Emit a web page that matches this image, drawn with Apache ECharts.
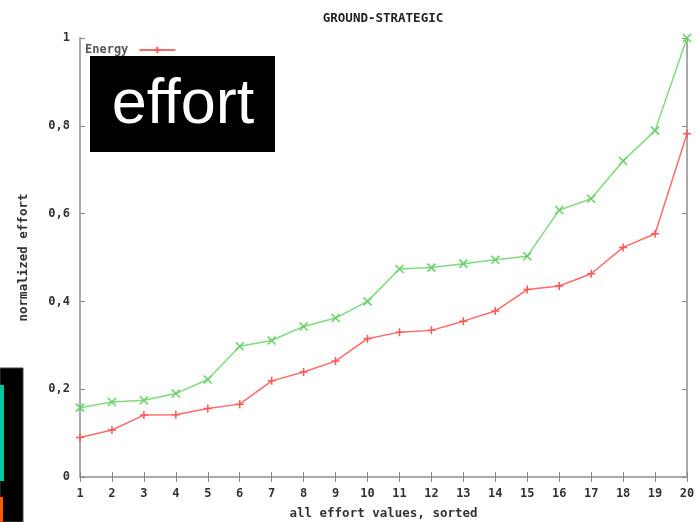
<!DOCTYPE html>
<html>
<head>
<meta charset="utf-8">
<script src="https://cdn.jsdelivr.net/npm/echarts@6/dist/echarts.min.js"></script>
<style>
html,body{margin:0;padding:0;background:#fff;}
#c{width:698px;height:522px;}
</style>
</head>
<body>
<div id="c"></div>
<script>
const categories = ['1','2','3','4','5','6','7','8','9','10','11','12','13','14','15','16','17','18','19','20'];
const energyValues = [0.090,0.107,0.141,0.142,0.156,0.166,0.219,0.239,0.264,0.315,0.330,0.334,0.355,0.378,0.427,0.435,0.463,0.523,0.554,0.782];
const otherValues = [0.158,0.171,0.175,0.190,0.222,0.298,0.311,0.343,0.362,0.400,0.474,0.477,0.486,0.495,0.503,0.608,0.634,0.720,0.789,1.000];
const yTicks = [0,0.2,0.4,0.6,0.8,1];

const FONT = 'DejaVu Sans Mono';
const txt = {fontFamily: FONT, fontSize: 12, fontWeight: 'bold', color: '#333'};
const axisLine = {show: true, lineStyle: {color: '#aaa', width: 2}};
const tick = {show: true, inside: true, length: 5, lineStyle: {color: '#888', width: 1}};

const chart = echarts.init(document.getElementById('c'), null, {renderer: 'canvas'});
chart.setOption({
  animation: false,
  backgroundColor: '#fff',
  title: {
    text: 'GROUND-STRATEGIC', left: 378, top: 7, textAlign: 'center',
    textStyle: {fontFamily: FONT, fontSize: 12.5, fontWeight: 'bold', color: '#222'}
  },
  legend: {
    data: ['Energy'], left: 85, top: 44, align: 'right', itemWidth: 36, itemHeight: 8,
    padding: 0, textStyle: {fontFamily: FONT, fontSize: 12, fontWeight: 'bold', color: '#555', padding: [0, 6, 0, 0]}
  },
  grid: {left: 80, right: 11, top: 38, bottom: 45, outerBoundsMode: 'none', containLabel: false},
  xAxis: [{
    type: 'category', data: categories, boundaryGap: false,
    name: 'all effort values, sorted', nameLocation: 'middle', nameGap: 30,
    nameTextStyle: {fontFamily: FONT, fontSize: 12.5, fontWeight: 'bold', color: '#333'},
    axisLine: axisLine, axisTick: Object.assign({interval: 0}, tick),
    axisLabel: Object.assign({interval: 0, margin: 11}, txt), splitLine: {show: false}
  }, {
    type: 'category', data: categories, boundaryGap: false, position: 'top',
    axisLine: axisLine, axisTick: Object.assign({interval: 0}, tick),
    axisLabel: {show: false}, splitLine: {show: false}
  }],
  yAxis: [{
    type: 'value', min: 0, max: 1, interval: 0.2,
    name: 'normalized effort', nameLocation: 'middle', nameGap: 50,
    nameTextStyle: {fontFamily: FONT, fontSize: 12.5, fontWeight: 'bold', color: '#333'},
    axisLine: axisLine, axisTick: tick,
    axisLabel: Object.assign({margin: 10, formatter: v => String(+v.toFixed(1)).replace('.', ',')}, txt),
    splitLine: {show: false}
  }, {
    type: 'value', min: 0, max: 1, interval: 0.2, position: 'right',
    axisLine: axisLine, axisTick: tick, axisLabel: {show: false}, splitLine: {show: false}
  }],
  series: [{
    name: 'Energy', type: 'line', data: energyValues,
    symbol: 'path://M5,0L5,10M0,5L10,5', symbolSize: 8,
    lineStyle: {color: '#ff6a6a', width: 1.5},
    itemStyle: {color: 'rgba(0,0,0,0)', borderColor: '#ff5555', borderWidth: 1.5},
    z: 3
  }, {
    name: 'Other', type: 'line', data: otherValues,
    symbol: 'path://M0,0L10,10M10,0L0,10', symbolSize: 8,
    lineStyle: {color: '#7cdc7c', width: 1.5},
    itemStyle: {color: 'rgba(0,0,0,0)', borderColor: '#66d066', borderWidth: 1.5},
    z: 2
  }],
  graphic: [
    {type: 'rect', shape: {x: 90, y: 56, width: 185, height: 96}, style: {fill: '#000'}, z: 100},
    {type: 'text', x: 183, y: 137, z: 101,
     style: {text: 'effort', fill: '#fff', font: '63px "Liberation Sans"', textAlign: 'center', textVerticalAlign: 'bottom'}},
    {type: 'rect', shape: {x: 0, y: 368, width: 23, height: 154}, style: {fill: '#000', stroke: '#444', lineWidth: 1}, z: 100},
    {type: 'rect', shape: {x: 0, y: 385, width: 4, height: 96}, style: {fill: '#00c8a0'}, z: 101},
    {type: 'rect', shape: {x: 0, y: 497, width: 3, height: 25}, style: {fill: '#ff5a00'}, z: 101}
  ]
});
</script>
</body>
</html>
